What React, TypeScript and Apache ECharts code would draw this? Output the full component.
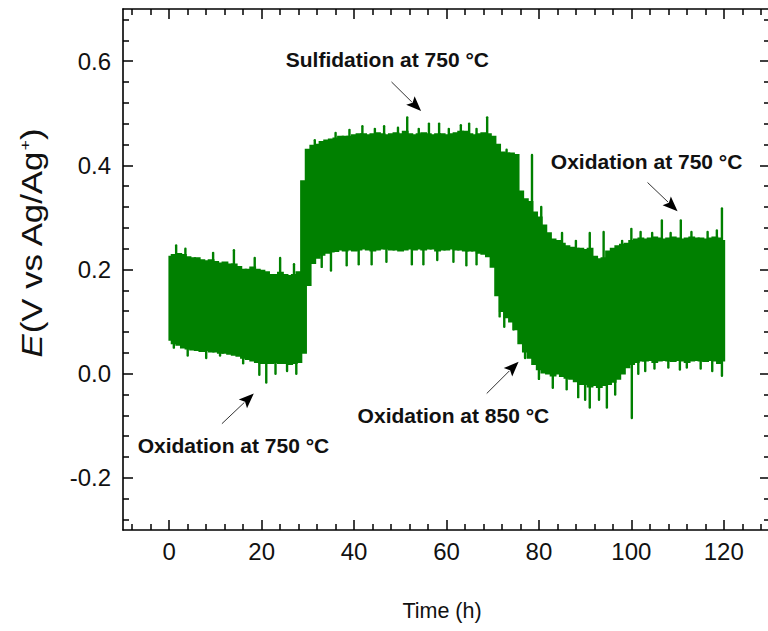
import React, { useEffect, useRef } from "react";
import * as echarts from "echarts";

// ---------- data ----------
const X_MIN = -10;
const X_MAX = 130;
const Y_MIN = -0.3;
const Y_MAX = 0.7;
const xMajorTicks = [0, 20, 40, 60, 80, 100, 120];
const xMinorTicks = [-8, -4, 4, 8, 12, 16, 24, 28, 32, 36, 44, 48, 52, 56, 64, 68, 72, 76, 84, 88, 92, 96, 104, 108, 112, 116, 124, 128];
const yMajorTicks = [-0.2, 0, 0.2, 0.4, 0.6];
const yMinorTicks = [-0.28, -0.24, -0.16, -0.12, -0.08, -0.04, 0.04, 0.08, 0.12, 0.16, 0.24, 0.28, 0.32, 0.36, 0.44, 0.48, 0.52, 0.56, 0.64, 0.68];

// hourly sample times 0..120 h
const timeH = Array.from({ length: 121 }, (_, i) => i);

// upper edge of the dense noise band (V), one per hour
const upperE = [
  0.225, 0.228, 0.23, 0.228, 0.224, 0.222, 0.222, 0.218, 0.216, 0.218,
  0.215, 0.212, 0.214, 0.21, 0.21, 0.205, 0.2, 0.2, 0.204, 0.2,
  0.198, 0.195, 0.19, 0.19, 0.194, 0.19, 0.188, 0.19, 0.195, 0.37,
  0.43, 0.438, 0.44, 0.445, 0.448, 0.45, 0.452, 0.455, 0.455, 0.455,
  0.458, 0.46, 0.46, 0.458, 0.46, 0.462, 0.46, 0.458, 0.46, 0.462,
  0.46, 0.465, 0.46, 0.458, 0.46, 0.462, 0.46, 0.458, 0.46, 0.46,
  0.458, 0.46, 0.462, 0.465, 0.465, 0.46, 0.458, 0.46, 0.462, 0.46,
  0.455, 0.44, 0.425, 0.423, 0.423, 0.42, 0.35, 0.335, 0.33, 0.31,
  0.3, 0.285, 0.27, 0.258, 0.255, 0.25, 0.245, 0.242, 0.24, 0.24,
  0.238, 0.24, 0.225, 0.22, 0.222, 0.235, 0.24, 0.245, 0.248, 0.25,
  0.255, 0.258, 0.26, 0.258, 0.26, 0.262, 0.26, 0.258, 0.26, 0.262,
  0.26, 0.258, 0.26, 0.262, 0.26, 0.26, 0.258, 0.26, 0.262, 0.26,
  0.255,
];

// lower edge of the dense noise band (V), one per hour
const lowerE = [
  0.065, 0.058, 0.055, 0.05, 0.048, 0.046, 0.045, 0.043, 0.045, 0.042,
  0.042, 0.04, 0.04, 0.038, 0.036, 0.034, 0.03, 0.028, 0.025, 0.022,
  0.02, 0.02, 0.02, 0.022, 0.02, 0.02, 0.018, 0.02, 0.022, 0.04,
  0.17, 0.212, 0.222, 0.228, 0.232, 0.234, 0.235, 0.238, 0.236, 0.238,
  0.236, 0.238, 0.24, 0.238, 0.236, 0.238, 0.24, 0.24, 0.238, 0.238,
  0.236, 0.238, 0.24, 0.238, 0.24, 0.238, 0.24, 0.24, 0.236, 0.238,
  0.238, 0.24, 0.238, 0.238, 0.236, 0.236, 0.236, 0.232, 0.23, 0.225,
  0.205, 0.15, 0.12, 0.108, 0.1, 0.085, 0.058, 0.042, 0.03, 0.018,
  0.008, 0.002, 0.0, -0.004, 0.0, -0.005, -0.008, -0.01, -0.015, -0.02,
  -0.02, -0.025, -0.022, -0.026, -0.022, -0.02, -0.016, -0.01, 0.0, 0.012,
  0.018, 0.022, 0.025, 0.025, 0.026, 0.022, 0.025, 0.026, 0.025, 0.024,
  0.026, 0.025, 0.022, 0.025, 0.026, 0.025, 0.024, 0.026, 0.025, 0.02,
  0.025,
];

// isolated spikes sticking out of the band
const upSpikeT = [1.5, 3.5, 9.5, 14, 18.5, 24, 27, 31.5, 36, 39, 41.8, 44.5, 46.5, 49.5, 51.5, 54, 56.2, 58.4, 60.5, 63.1, 64.9, 66.5, 68.8, 73, 78.5, 80.5, 85, 88, 91, 94, 98, 100, 102, 104.5, 106.6, 108.5, 110.7, 113, 116.5, 118.5, 119.6];
const upSpikeE = [0.246, 0.24, 0.232, 0.237, 0.222, 0.222, 0.21, 0.448, 0.462, 0.468, 0.475, 0.47, 0.475, 0.472, 0.492, 0.47, 0.48, 0.48, 0.47, 0.477, 0.48, 0.47, 0.492, 0.43, 0.42, 0.32, 0.27, 0.255, 0.27, 0.272, 0.255, 0.278, 0.272, 0.27, 0.294, 0.27, 0.294, 0.272, 0.272, 0.275, 0.317];
const downSpikeT = [1, 4, 8, 11, 16, 19.5, 21, 23, 25.5, 27.5, 33, 35, 38.4, 41, 43.8, 47, 52.5, 55, 58, 61.5, 64.3, 66.5, 71.5, 72.5, 74.5, 77, 80, 83, 86, 88.5, 90, 91, 93, 94.7, 96.5, 100.1, 101.5, 103, 105, 108, 110.5, 112, 115, 117.5, 119.6];
const downSpikeE = [0.05, 0.035, 0.03, 0.035, 0.02, -0.002, -0.017, 0.0, 0.005, 0.0, 0.205, 0.198, 0.208, 0.21, 0.21, 0.215, 0.21, 0.21, 0.218, 0.215, 0.208, 0.21, 0.11, 0.09, 0.085, 0.03, -0.01, -0.027, -0.03, -0.045, -0.05, -0.065, -0.05, -0.065, -0.04, -0.085, 0.0, 0.005, 0.01, 0.012, 0.008, 0.012, 0.01, 0.005, -0.004];

// annotations: label centre (t, E), arrow tail (t, E), arrow head (t, E)
const annotations = [
  { text: "Sulfidation at 750 °C", at: [47.2, 0.604], tail: [48.1, 0.56], head: [54.5, 0.504] },
  { text: "Oxidation at 750 °C", at: [103.3, 0.407], tail: [103.5, 0.367], head: [110.0, 0.312] },
  { text: "Oxidation at 850 °C", at: [61.5, -0.081], tail: [68.7, -0.038], head: [75.6, 0.023] },
  { text: "Oxidation at 750 °C", at: [13.9, -0.1375], tail: [11.4, -0.096], head: [18.3, -0.038] },
];

const GREEN = "#008000";
const FONT = "'Liberation Sans', Arial, Helvetica, sans-serif";
const TICK_FONT = 24;

export default function App() {
  const ref = useRef<HTMLDivElement>(null);

  useEffect(() => {
    if (!ref.current) return;
    const chart = echarts.init(ref.current, null, { renderer: "svg" });

    const band = timeH.map((t, i) => [t, lowerE[i], upperE[i]]);
    const mid = (t: number) => {
      const i = Math.max(0, Math.min(120, Math.round(t)));
      return (upperE[i] + lowerE[i]) / 2;
    };
    const spikes = [
      ...upSpikeT.map((t, i) => [t, mid(t), upSpikeE[i]]),
      ...downSpikeT.map((t, i) => [t, mid(t), downSpikeE[i]]),
    ];
    const tFirst = timeH[0];
    const tLast = timeH[timeH.length - 1];

    const axisLineStyle = { color: "#000", width: 1.6 };
    const tickStyle = { color: "#000", width: 1.5 };
    const xBase = { type: "value", min: X_MIN, max: X_MAX, gridIndex: 0, splitLine: { show: false } };
    const yBase = { type: "value", min: Y_MIN, max: Y_MAX, gridIndex: 0, splitLine: { show: false } };

    const option: any = {
      animation: false,
      backgroundColor: "#fff",
      grid: { left: 123, top: 9, width: 647, height: 521, containLabel: false },
      xAxis: [
        {
          ...xBase,
          position: "bottom",
          axisLine: { show: true, onZero: false, lineStyle: axisLineStyle },
          axisTick: { show: true, inside: true, length: 10, lineStyle: tickStyle, customValues: xMajorTicks },
          axisLabel: { show: true, customValues: xMajorTicks, fontSize: TICK_FONT, fontFamily: FONT, color: "#111", margin: 9 },
        },
        {
          ...xBase,
          position: "bottom",
          axisLine: { show: false, onZero: false },
          axisTick: { show: true, inside: true, length: 6, lineStyle: tickStyle, customValues: xMinorTicks },
          axisLabel: { show: false },
        },
        {
          ...xBase,
          position: "top",
          axisLine: { show: true, onZero: false, lineStyle: axisLineStyle },
          axisTick: { show: true, inside: true, length: 10, lineStyle: tickStyle, customValues: xMajorTicks },
          axisLabel: { show: false },
        },
        {
          ...xBase,
          position: "top",
          axisLine: { show: false, onZero: false },
          axisTick: { show: true, inside: true, length: 6, lineStyle: tickStyle, customValues: xMinorTicks },
          axisLabel: { show: false },
        },
      ],
      yAxis: [
        {
          ...yBase,
          position: "left",
          axisLine: { show: true, onZero: false, lineStyle: axisLineStyle },
          axisTick: { show: true, inside: true, length: 10, lineStyle: tickStyle, customValues: yMajorTicks },
          axisLabel: {
            show: true,
            customValues: yMajorTicks,
            formatter: (v: number) => v.toFixed(1),
            fontSize: TICK_FONT,
            fontFamily: FONT,
            color: "#111",
            margin: 12,
          },
        },
        {
          ...yBase,
          position: "left",
          axisLine: { show: false, onZero: false },
          axisTick: { show: true, inside: true, length: 6, lineStyle: tickStyle, customValues: yMinorTicks },
          axisLabel: { show: false },
        },
        {
          ...yBase,
          position: "right",
          axisLine: { show: true, onZero: false, lineStyle: axisLineStyle },
          axisTick: { show: true, inside: true, length: 10, lineStyle: tickStyle, customValues: yMajorTicks },
          axisLabel: { show: false },
        },
        {
          ...yBase,
          position: "right",
          axisLine: { show: false, onZero: false },
          axisTick: { show: true, inside: true, length: 6, lineStyle: tickStyle, customValues: yMinorTicks },
          axisLabel: { show: false },
        },
      ],
      series: [
        {
          name: "E band",
          type: "custom",
          xAxisIndex: 0,
          yAxisIndex: 0,
          data: band,
          encode: { x: 0, y: [1, 2] },
          silent: true,
          z: 3,
          renderItem: (params: any, api: any) => {
            const t = api.value(0);
            const lo = api.value(1);
            const hi = api.value(2);
            const x0 = Math.max(tFirst, t - 0.5);
            const x1 = Math.min(tLast, t + 0.5);
            const pTop = api.coord([x0, hi]);
            const pBot = api.coord([x1, lo]);
            return {
              type: "rect",
              shape: { x: pTop[0], y: pTop[1], width: pBot[0] - pTop[0] + 0.6, height: pBot[1] - pTop[1] },
              style: { fill: GREEN, stroke: GREEN, lineWidth: 1.6 },
            };
          },
        },
        {
          name: "spikes",
          type: "custom",
          xAxisIndex: 0,
          yAxisIndex: 0,
          data: spikes,
          encode: { x: 0, y: [1, 2] },
          silent: true,
          z: 4,
          renderItem: (params: any, api: any) => {
            const p1 = api.coord([api.value(0), api.value(1)]);
            const p2 = api.coord([api.value(0), api.value(2)]);
            return {
              type: "line",
              shape: { x1: p1[0], y1: p1[1], x2: p2[0], y2: p2[1] },
              style: { stroke: GREEN, lineWidth: 2.4, lineCap: "round" },
            };
          },
        },
      ],
    };

    chart.setOption(option);

    const px = (p: number[]) => chart.convertToPixel({ xAxisIndex: 0, yAxisIndex: 0 }, p) as number[];
    const graphics: any[] = [];
    annotations.forEach((a) => {
      const c = px(a.at);
      graphics.push({
        type: "text",
        x: c[0],
        y: c[1],
        z: 100,
        style: {
          text: a.text,
          fontSize: 21,
          fontWeight: "bold",
          fontFamily: FONT,
          fill: "#111",
          align: "center",
          verticalAlign: "middle",
        },
      });
      const t = px(a.tail);
      const h = px(a.head);
      const dx = h[0] - t[0];
      const dy = h[1] - t[1];
      const len = Math.sqrt(dx * dx + dy * dy);
      const ux = dx / len;
      const uy = dy / len;
      const headLen = 15;
      const hw = 6;
      const bx = h[0] - ux * headLen;
      const by = h[1] - uy * headLen;
      graphics.push({
        type: "line",
        z: 100,
        shape: { x1: t[0], y1: t[1], x2: bx + ux * 2, y2: by + uy * 2 },
        style: { stroke: "#333", lineWidth: 1 },
      });
      graphics.push({
        type: "polygon",
        z: 100,
        shape: {
          points: [
            [h[0], h[1]],
            [bx - uy * hw, by + ux * hw],
            [bx + ux * 3, by + uy * 3],
            [bx + uy * hw, by - ux * hw],
          ],
        },
        style: { fill: "#000" },
      });
    });

    // axis titles
    graphics.push({
      type: "text",
      x: 442,
      y: 611,
      z: 100,
      style: {
        text: "Time (h)",
        fontSize: 21.5,
        fontFamily: FONT,
        fill: "#111",
        align: "center",
        verticalAlign: "middle",
      },
    });
    graphics.push({
      type: "text",
      x: 32,
      y: 243,
      rotation: Math.PI / 2,
      scaleX: 1.2,
      scaleY: 1,
      z: 100,
      style: {
        text: "{i|E}{n|(V vs Ag/Ag}{s|+}{n|)}",
        align: "center",
        verticalAlign: "middle",
        fill: "#111",
        fontFamily: FONT,
        rich: {
          i: { fontSize: 29, fontStyle: "italic", fontFamily: FONT, fill: "#111" },
          n: { fontSize: 29, fontFamily: FONT, fill: "#111" },
          s: { fontSize: 15, fontFamily: FONT, fill: "#111", verticalAlign: "top" },
        },
      },
    });

    chart.setOption({ graphic: graphics });

    return () => chart.dispose();
  }, []);

  return (
    <div style={{ position: "fixed", left: 0, top: 0, width: 768, height: 631, overflow: "hidden", background: "#fff" }}>
      <div ref={ref} style={{ width: 780, height: 631 }} />
    </div>
  );
}
